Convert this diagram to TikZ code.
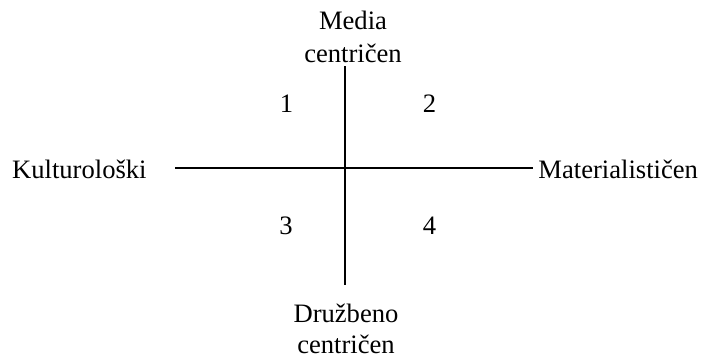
\documentclass[tikz,border=0pt]{standalone}
\usepackage{fontspec}
\setmainfont{Liberation Serif}
\begin{document}
\begin{tikzpicture}[x=0.5pt,y=-0.5pt,
  lbl/.style={inner sep=0pt, font=\fontsize{13.3}{16}\selectfont},
  axis/.style={line width=0.65pt}]
\useasboundingbox (0,0) rectangle (702,360);
\node[lbl, anchor=base east] (kul) at (147,178) {Kulturološki};
\node[lbl, anchor=base west] (mat) at (538,178) {Materialističen};
\node[lbl, anchor=base] (med1) at (353,29) {Media};
\node[lbl, anchor=base] (med2) at (353,62) {centričen};
\node[lbl, anchor=base] (dru1) at (346,322) {Družbeno};
\node[lbl, anchor=base] (dru2) at (346,353) {centričen};
\node[lbl, anchor=base] (q1) at (286.5,112) {1};
\node[lbl, anchor=base] (q2) at (429.5,112) {2};
\node[lbl, anchor=base] (q3) at (286,234) {3};
\node[lbl, anchor=base] (q4) at (429.5,234) {4};
\coordinate (hl) at (175,168);
\coordinate (hr) at (533,168);
\coordinate (vt) at (345,66);
\coordinate (vb) at (345,285);
\draw[axis] (hl) -- (hr);
\draw[axis] (vt) -- (vb);
\end{tikzpicture}
\end{document}
